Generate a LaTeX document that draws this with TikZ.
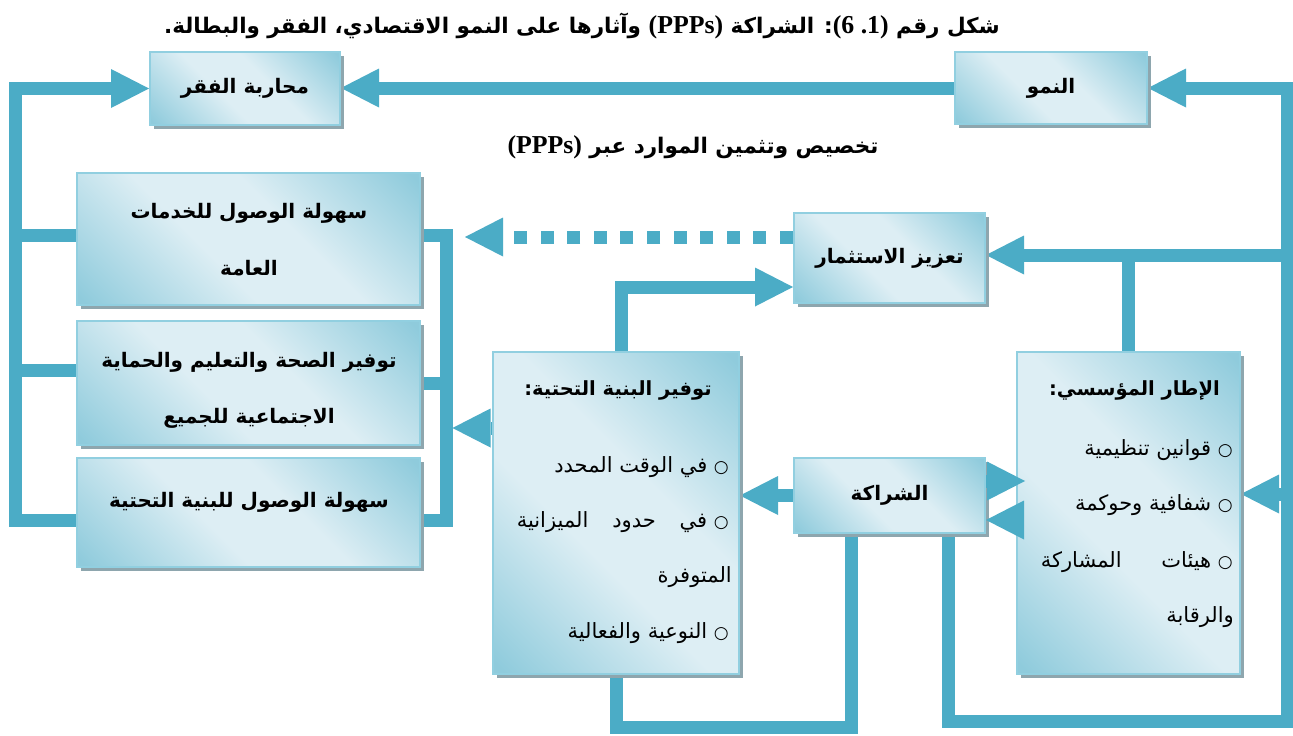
\documentclass[tikz,border=0pt]{standalone}
\usepackage{fontspec}
\usetikzlibrary{arrows.meta,calc,shadows}
\TeXXeTstate=1
\newfontfamily\arabicfont[Script=Arabic]{DejaVu Sans}
\newfontfamily\latinfont[Scale=1.2]{Liberation Serif}
\newcommand{\AR}[1]{{\arabicfont\beginR #1\endR}}
\newcommand{\LT}[1]{\beginL{\latinfont #1}\endL}
\newcommand{\bul}{{\fontsize{17}{20}\selectfont ○}}
\definecolor{bdark}{RGB}{143,203,220}
\definecolor{blight}{RGB}{221,238,244}
\definecolor{bborder}{RGB}{145,207,224}
\definecolor{bshadow}{RGB}{142,166,174}
\definecolor{cblue}{RGB}{75,172,198}
\pgfdeclarehorizontalshading{boxshade}{100bp}{color(0bp)=(bdark); color(16bp)=(bdark); color(42bp)=(blight); color(58bp)=(blight); color(84bp)=(bdark); color(100bp)=(bdark)}
\pgfdeclarelayer{paper}
\pgfdeclarelayer{wires}
\pgfsetlayers{paper,wires,main}

\begin{document}
\begin{tikzpicture}[x=1pt,y=-1pt,
  tbox/.style={draw=bborder, line width=2pt, shade, shading=boxshade, shading angle=45, inner sep=0pt,
    drop shadow={shadow xshift=4pt, shadow yshift=-4pt, fill=bshadow, opacity=1}},
  cline/.style={draw=cblue, line width=13pt, line join=miter},
  atip/.style={-{Triangle[length=38pt,width=39pt,line width=0pt]}},
  dline/.style={cline, dash pattern=on 13pt off 13.6pt},
  lbl/.style={inner sep=0pt, font=\fontsize{20}{24}\selectfont\bfseries},
  hdr/.style={inner sep=0pt, font=\fontsize{19.5}{24}\selectfont\bfseries},
  ttl/.style={inner sep=0pt, font=\fontsize{21.5}{26}\selectfont\bfseries},
  litem/.style={inner sep=0pt, anchor=east, font=\fontsize{21}{26}\selectfont},
]
\begin{pgfonlayer}{paper}
\fill[white] (0,0) rectangle (1293,736);
\end{pgfonlayer}
\useasboundingbox (0,0) rectangle (1293,736);

% title and the resource note
\node[ttl] (title) at (582,26) {\AR{شكل رقم \LT{(6 .1)}: الشراكة \LT{(PPPs)} وآثارها على النمو الاقتصادي، الفقر والبطالة.}};
\node[ttl] (note) at (693,147) {\AR{تخصيص وتثمين الموارد عبر \LT{(PPPs)}}};

% boxes
\node[tbox, minimum width=190pt, minimum height=73pt] (faqr) at (245,88.5) {};
\node[tbox, minimum width=192pt, minimum height=72pt] (nomu) at (1051,88) {};
\node[tbox, minimum width=191pt, minimum height=90pt] (taziz) at (889.5,258) {};
\node[tbox, minimum width=343pt, minimum height=132pt] (pub) at (248.5,239) {};
\node[tbox, minimum width=343pt, minimum height=124pt] (soc) at (248.5,383) {};
\node[tbox, minimum width=343pt, minimum height=109pt] (infa) at (248.5,512.5) {};
\node[tbox, minimum width=246pt, minimum height=322pt] (infra) at (616,513) {};
\node[tbox, minimum width=191pt, minimum height=75pt] (ppp) at (889.5,495.5) {};
\node[tbox, minimum width=223pt, minimum height=322pt] (inst) at (1128.5,513) {};

% box labels
\node[lbl] (faqrT) at (faqr.center) {\AR{محاربة الفقر}};
\node[lbl] (nomuT) at (nomu.center) {\AR{النمو}};
\node[lbl] (tazizT) at (taziz.center) {\AR{تعزيز الاستثمار}};
\node[lbl] (pppT) at (ppp.center) {\AR{الشراكة}};
\node[lbl] (pubA) at (249,213) {\AR{سهولة الوصول للخدمات}};
\node[lbl] (pubB) at (249,268) {\AR{العامة}};
\node[lbl] (socA) at (249,362) {\AR{توفير الصحة والتعليم والحماية}};
\node[lbl] (socB) at (249,418) {\AR{الاجتماعية للجميع}};
\node[lbl] (infaT) at (249,502) {\AR{سهولة الوصول للبنية التحتية}};

% institutional framework list
\node[hdr, anchor=east] (instH) at (1220,390) {\AR{الإطار المؤسسي:}};
\node[litem] (inst1) at (1233,450) {\AR{\bul{} قوانين تنظيمية}};
\node[litem] (inst2) at (1233,505) {\AR{\bul{} شفافية وحوكمة}};
\node[litem] (inst3) at (1233,562) {\hbox to 192pt{\AR{\bul{} هيئات\hfill المشاركة}}};
\node[litem] (inst4) at (1234,617) {\AR{والرقابة}};

% infrastructure list
\node[hdr] (infraH) at (618,390) {\AR{توفير البنية التحتية:}};
\node[litem] (infra1) at (729,467) {\AR{\bul{} في الوقت المحدد}};
\node[litem] (infra2) at (729,522) {\hbox to 212pt{\AR{\bul{} في\hfill حدود\hfill الميزانية}}};
\node[litem] (infra3) at (732,577) {\AR{المتوفرة}};
\node[litem] (infra4) at (729,633) {\AR{\bul{} النوعية والفعالية}};

% rails and levels of the connectors
\coordinate (lrail) at (15,0);
\coordinate (rrail) at (446,0);
\coordinate (erail) at (1287,0);
\coordinate (yA) at (0,235);
\coordinate (yB) at (0,370);
\coordinate (yB2) at (0,383);
\coordinate (yC) at (0,520);
\coordinate (yI) at (0,428);
\coordinate (yD) at (0,237);
\coordinate (yT) at (0,255);
\coordinate (yU) at (0,287);
\coordinate (yE) at (0,494);
\coordinate (yS1) at (0,481);
\coordinate (yS2) at (0,520);
\coordinate (xL) at (851,727);
\coordinate (xR) at (948,721);
\coordinate (dottip) at (465,237);

\begin{pgfonlayer}{wires}
% left rail into the fight against poverty
\draw[cline, atip] (infa.west |- yC) -- (lrail |- yC) -- (lrail |- faqr.west) -- (faqr.west);
\draw[cline] (pub.west |- yA) -- (lrail |- yA);
\draw[cline] (soc.west |- yB) -- (lrail |- yB);
% right bracket of the three service boxes
\draw[cline] (pub.east |- yA) -- (rrail |- yA) -- (rrail |- yC) -- (infa.east |- yC);
\draw[cline] (soc.east |- yB2) -- (rrail |- yB2);
\draw[cline, atip] (infra.west |- yI) -- ($(rrail |- yI)+(6.5,0)$);
\draw[dline, atip] (taziz.west |- yD) -- (dottip);
% growth to poverty
\draw[cline, atip] (nomu.west) -- (nomu.west -| faqr.east);
% outer loop on the right
\draw[cline, atip] (xR |- ppp.south) -- (xR) -- (erail |- xR) -- (erail |- nomu.east) -- (nomu.east);
\draw[cline, atip] (erail |- yT) -- (taziz.east |- yT);
\draw[cline, atip] (erail |- yE) -- (inst.east |- yE);
\draw[cline] (inst.north) -- (inst.north |- yT);
% infrastructure to investment
\draw[cline, atip] ($(infra.north)+(5,0)$) |- (taziz.west |- yU);
% partnership to infrastructure
\draw[cline, atip] (ppp.west) -- (ppp.west -| infra.east);
\draw[cline] (infra.south) |- (xL) -- (xL |- ppp.south);
\end{pgfonlayer}

% partnership and framework, both ways
\draw[cline, atip] (ppp.east |- yS1) -- ($(inst.west |- yS1)+(9,0)$);
\draw[cline, atip] ($(inst.west |- yS2)+(7,0)$) -- (ppp.east |- yS2);
\end{tikzpicture}
\end{document}
